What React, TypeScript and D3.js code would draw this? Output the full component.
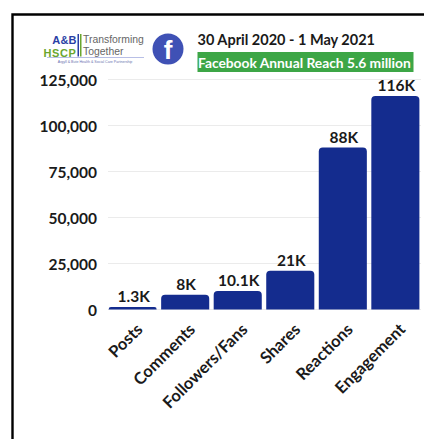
import React from "react";
import * as d3 from "d3";

const categories = ["Posts", "Comments", "Followers/Fans", "Shares", "Reactions", "Engagement"];
const values = [1300, 8000, 10100, 21000, 88000, 116000];
const valueLabels = ["1.3K", "8K", "10.1K", "21K", "88K", "116K"];
const yTicks = [0, 25000, 50000, 75000, 100000, 125000];

const WIDTH = 424;
const HEIGHT = 439;
const FONT = "Lato, 'Noto Sans', sans-serif";
const LOGO_FONT = "'Liberation Sans', sans-serif";
const BAR_BLUE = "#142c8e";
const INK = "#1a1a1a";

const x = d3.scaleBand<string>().domain(categories).range([106.5, 421.5]).paddingInner(0.085).paddingOuter(0.04);
const y = d3.scaleLinear().domain([0, 125000]).range([309.5, 79.5]);
const fmt = d3.format(",");

function barPath(left: number, top: number, w: number, bottom: number) {
  const r = Math.min(4, bottom - top);
  return `M${left},${bottom}V${top + r}Q${left},${top} ${left + r},${top}H${left + w - r}Q${left + w},${top} ${left + w},${top + r}V${bottom}Z`;
}

export default function App() {
  return (
    <svg
      width={WIDTH}
      height={HEIGHT}
      viewBox={`0 0 ${WIDTH} ${HEIGHT}`}
      style={{ position: "absolute", left: 0, top: 0, background: "#fff", fontFamily: FONT }}
    >
      {/* card outline: top and left edges only */}
      <path d="M424,14.5H12.5V439" fill="none" stroke="#000" strokeWidth={2.4} />

      {/* partnership logo */}
      <g fontFamily={LOGO_FONT}>
        <text x={76.5} y={44} textAnchor="end" fontSize={11} fontWeight={700} fill="#2a3fa5" letterSpacing={0.1}>A&amp;B</text>
        <text x={76.5} y={56.5} textAnchor="end" fontSize={11} fontWeight={700} fill="#6aa62e" letterSpacing={0.6}>HSCP</text>
        <rect x={77.5} y={34} width={1.5} height={22.5} fill="#2a3fa5" />
        <rect x={80} y={34} width={1.5} height={22.5} fill="#6aa62e" />
        <text x={83} y={43} fontSize={10.4} fill="#666">Transforming</text>
        <text x={83} y={55} fontSize={10.4} fill="#666">Together</text>
        <line x1={47} x2={144} y1={57.5} y2={57.5} stroke="#b8bfe6" strokeWidth={1} />
        <text x={95} y={62.5} textAnchor="middle" fontSize={3.6} fill="#6a72b0">Argyll &amp; Bute Health &amp; Social Care Partnership</text>
      </g>

      {/* Facebook badge */}
      <circle cx={168} cy={49} r={15.5} fill="#3f51b5" />
      <text x={168} y={58.5} textAnchor="middle" fontFamily={LOGO_FONT} fontSize={26} fontWeight={700} fill="#fff">f</text>

      <text x={197.5} y={45} fontSize={14.5} fontWeight={700} fill={INK}>30 April 2020 - 1 May 2021</text>
      <rect x={197.5} y={52} width={216} height={20} fill="#3da646" />
      <text x={198} y={68} fontSize={13.8} fontWeight={700} fill="#fff">Facebook Annual Reach 5.6 million</text>

      {/* horizontal gridlines */}
      {yTicks.map((t) => (
        <line key={t} x1={108} x2={421} y1={y(t)} y2={y(t)} stroke="#e6e6e6" strokeWidth={0.8} />
      ))}

      {/* value axis labels */}
      {yTicks.map((t) => (
        <text key={t} x={97} y={y(t) + 6} textAnchor="end" fontSize={15.5} fontWeight={700} fill={INK}>
          {fmt(t)}
        </text>
      ))}

      {/* bars with value labels */}
      {categories.map((c, i) => {
        const left = x(c) as number;
        const w = x.bandwidth();
        const top = y(values[i]);
        const cx = left + w / 2;
        return (
          <g key={c}>
            <path d={barPath(left, top, w, y(0))} fill={BAR_BLUE} />
            <text x={cx + 1} y={top - 5} textAnchor="middle" fontSize={15.5} fontWeight={700} fill={INK}>
              {valueLabels[i]}
            </text>
            <text
              transform={`translate(${cx + 11},${y(0) + 21}) rotate(-45)`}
              textAnchor="end"
              fontSize={16.5}
              fontWeight={700}
              fill={INK}
            >
              {c}
            </text>
          </g>
        );
      })}
    </svg>
  );
}
